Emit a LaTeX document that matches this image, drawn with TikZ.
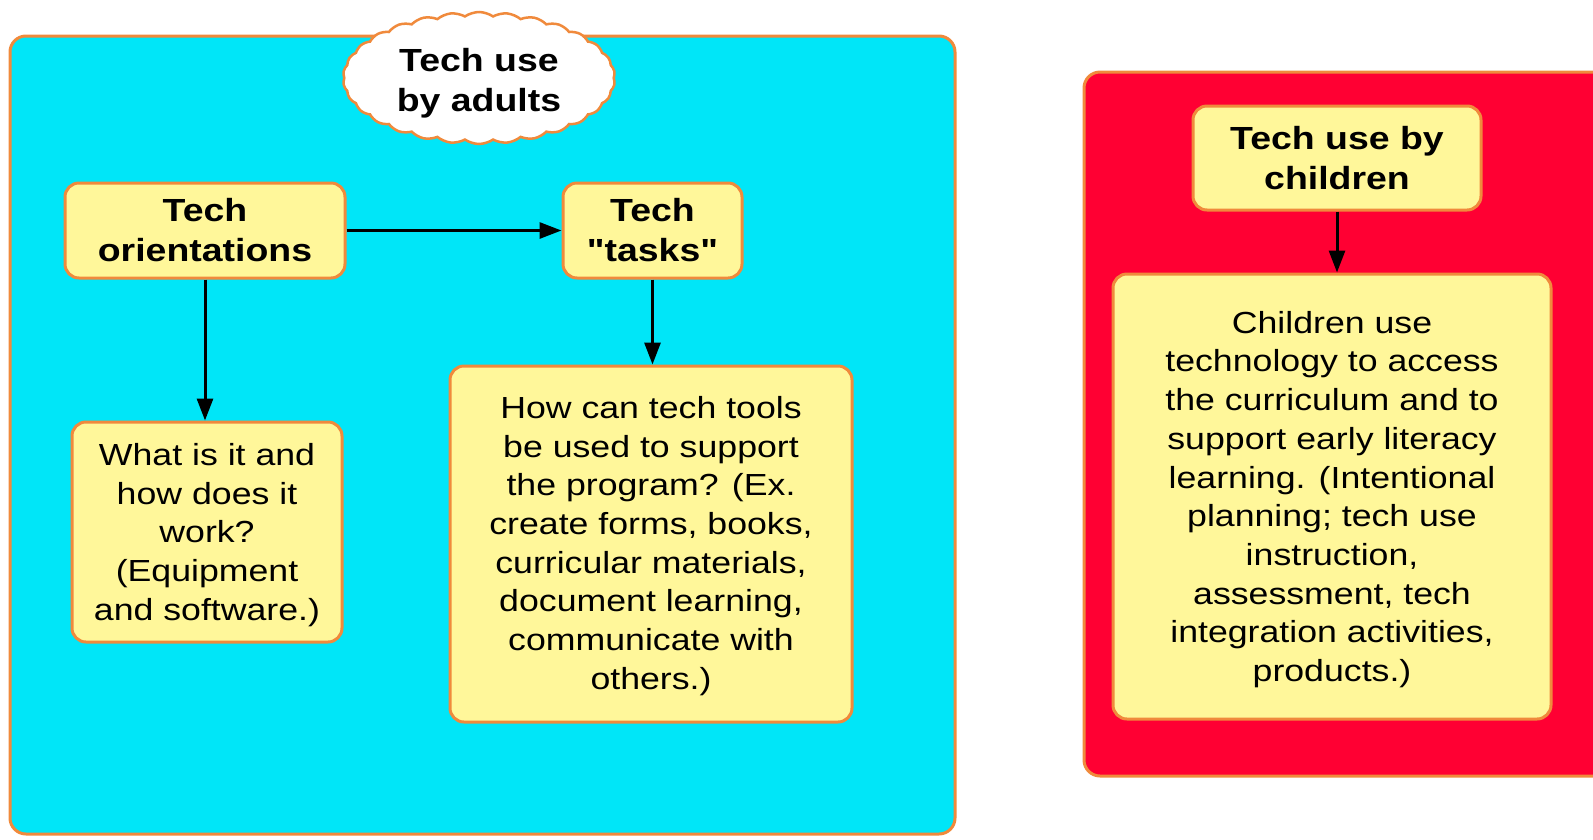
\documentclass[tikz,border=0pt]{standalone}
\usepackage{fontspec}
\newfontfamily\diafont{Liberation Sans}[FakeStretch=1.17]
\usetikzlibrary{shapes.symbols,arrows.meta}
\definecolor{frameblue}{HTML}{00E6F8}
\definecolor{framered}{HTML}{FF0033}
\definecolor{boxyellow}{HTML}{FFF79A}
\definecolor{edgeorange}{HTML}{F08A3C}
\tikzset{
  frame/.style={draw=edgeorange, line width=3pt, rounded corners=16pt},
  ybox/.style={draw=edgeorange, fill=boxyellow, line width=3pt, rounded corners=14pt,
    align=center, inner sep=0pt, font=\diafont\fontsize{30.5}{38.7}\selectfont},
  tbox/.style={ybox, font=\diafont\bfseries\fontsize{32}{40}\selectfont},
  conn/.style={line width=3pt, -{Triangle[length=22pt,width=16pt]}}
}
\begin{document}
\begin{tikzpicture}[x=1pt,y=-1pt]
\useasboundingbox (0,0) rectangle (1593,839);
\draw[frame, fill=frameblue] (10,36) rectangle (955,834);
\draw[frame, fill=framered] (1593,72) -- (1084,72) -- (1084,776) -- (1593,776);
\node[cloud, cloud puffs=30, cloud puff arc=70, draw=edgeorange, fill=white, line width=2.5pt,
  minimum width=272pt, minimum height=132pt, inner sep=0pt] (cloud) at (479,78) {};
\node[align=center, inner sep=0pt, font=\diafont\bfseries\fontsize{32}{40}\selectfont] (cloudtxt) at ([yshift=-5pt]cloud.center) {Tech use\\by adults};
\node[tbox, minimum width=280pt, minimum height=95pt] (orient) at (205,230.5) {Tech\\orientations};
\node[tbox, minimum width=179pt, minimum height=95pt] (tasks) at (652.5,230.5) {Tech\\"tasks"};
\node[ybox, minimum width=270pt, minimum height=220pt] (what) at (207,532) {};
\node[align=center, inner sep=0pt, font=\diafont\fontsize{30.5}{38.7}\selectfont] (whattxt) at ([yshift=-3pt]what.center) {What is it and\\how does it\\work?\\(Equipment\\and software.)};
\node[ybox, minimum width=402pt, minimum height=356pt] (how) at (651,544) {};
\node[align=center, inner sep=0pt, font=\diafont\fontsize{30.5}{38.7}\selectfont] (howtxt) at ([yshift=-2pt]how.center) {How can tech tools\\be used to support\\the program? (Ex.\\create forms, books,\\curricular materials,\\document learning,\\communicate with\\others.)};
\node[tbox, minimum width=288pt, minimum height=104pt] (bychild) at (1337,158) {Tech use by\\children};
\node[ybox, minimum width=438pt, minimum height=445pt] (cuse) at (1332,496.5) {};
\node[align=center, inner sep=0pt, font=\diafont\fontsize{30.5}{38.7}\selectfont] (cusetxt) at ([yshift=-3pt]cuse.center) {Children use\\technology to access\\the curriculum and to\\support early literacy\\learning. (Intentional\\planning; tech use\\instruction,\\assessment, tech\\integration activities,\\products.)};
\draw[conn] (orient.east) -- (tasks.west);
\draw[conn] (orient.south) -- (what.north -| orient.south);
\draw[conn] (tasks.south) -- (how.north -| tasks.south);
\draw[conn] (bychild.south) -- (cuse.north -| bychild.south);
\end{tikzpicture}
\end{document}
